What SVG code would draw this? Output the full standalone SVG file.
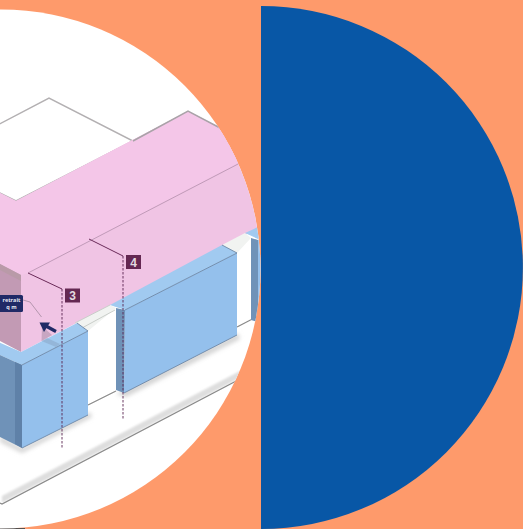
<svg xmlns="http://www.w3.org/2000/svg" width="523" height="529" viewBox="0 0 523 529">
<style>
.roofl{fill:none;stroke:#a9a3a8;stroke-width:1.5}
.roofw{fill:#fff;stroke:#b3b0b2;stroke-width:1.5}
.front{fill:#94c0ec}
.side{fill:#6f92b8}
.sided{fill:#5f81a8}
.ledge{fill:#a1caf0}
.edge{fill:none;stroke:#6d87a6;stroke-width:.9}
.ground{fill:none;stroke:#8a8a8a;stroke-width:1.3}
.lead{fill:none;stroke:#6a2a58;stroke-width:1}
.dash{fill:none;stroke:#5a2450;stroke-width:.9;stroke-dasharray:2.5 1.5}
.tag{fill:#642852}
.num{font-family:"Liberation Sans",Arial,sans-serif;font-weight:700;font-size:12px;fill:#e2dae0;text-anchor:middle}
.ret{font-family:"Open Sans","Liberation Sans",sans-serif;font-weight:700;font-size:5.500px;fill:#e6e8f2;text-anchor:middle}
</style>
<defs>
<clipPath id="c"><circle cx="1" cy="269" r="259.5"/></clipPath>
<filter id="b" x="-20%" y="-20%" width="140%" height="140%"><feGaussianBlur stdDeviation="2"/></filter>
<filter id="s" x="-5%" y="-20%" width="110%" height="140%"><feGaussianBlur stdDeviation="1"/></filter>
</defs>
<rect width="523" height="529" fill="#fe9a6b"/>
<rect x="0" y="528" width="25" height="1" fill="#55504e"/>
<circle cx="1" cy="269" r="259.5" fill="#fff"/>
<g clip-path="url(#c)">
<g id="ground">
<path d="M2 496L240 371L240 378L2 503Z" fill="#dedede" filter="url(#s)"/>
<path d="M0 503L2 504L240 379" class="ground"/>
<path d="M88 405L116 391M237 327L262 314" class="ground"/>
<path d="M0 442L22 453L92 417L90 412L22 448L0 436Z M116 394L126 397L240 339L238 333Z" fill="#d4d4d4" filter="url(#b)"/>
</g>
<g id="roof">
<path d="M-10 129L49 98L133 141L16 201L-10 188Z" class="roofw"/>
<path d="M-2 192L16 201L188 111L270 153L270 222L21 352L21 275L-2 263Z" fill="#f0c4e4"/>
<path d="M-2 192L16 201L188 111L270 153L238 163L28 273L21 275L-2 263Z" fill="#f4c6e8"/>
<path d="M133 141L188 111L222 129" class="roofl"/>
<path d="M28 273L240 163" fill="none" stroke="#c09ab8" stroke-width="1"/>
<path d="M-2 263L21 275L21 352L-2 340Z" fill="#c29ab4"/>
<path d="M-2 263L21 275L21 281L-2 269Z" fill="#b99aa8"/>
<path d="M42 326L41.500 341L52 335Z" fill="#c8a6c2"/>
</g>
<g id="blocks">
<path d="M75 323L110 305L116 308L88 331Z" fill="#f1f3f1"/>
<path d="M75 323L110 305M82 328L115 310" fill="none" stroke="#c9cdc9" stroke-width="1"/>
<path d="M222 245L245 233L251 238L237 253Z" fill="#f1f3f1"/>
<path d="M-2 342L21 352L77 323L88 331L22 365L-2 354Z" class="ledge"/>
<path d="M110 305L222 245L237 253L125 310Z" class="ledge"/>
<path d="M245 233L258 227L270 222L270 234L258 239Z" class="ledge"/>
<path d="M22 365L88 331L88 415L22 448Z" class="front"/>
<path d="M-2 354L22 365L22 448L-2 436Z" class="side"/>
<path d="M15 362L22 365L22 448L15 444Z" class="sided"/>
<path d="M125 310L237 253L237 335L124 393Z" class="front"/>
<path d="M116 308L125 310L124 393L116 390Z" class="side"/>
<path d="M251 238L258 240L258 322L251 320Z" class="side"/>
<path d="M258 240L270 234L270 320L258 322Z" class="front"/>
<path d="M22 365L88 331M125 310L237 253M22 448L88 415M124 393L237 335M222 245L237 253M77 323L88 331" class="edge"/>
<path d="M41.500 341L47 338L60 344L56 347Z" fill="#8aa6c6" opacity=".55"/>
</g>
<g id="connectors">
<path d="M28 273L62 289" class="lead"/>
<path d="M89 239L123 256" class="lead"/>
<path d="M62 289V448" class="dash"/>
<path d="M123 256V420" class="dash"/>
<path d="M23 300L30 302L41.500 317" fill="none" stroke="#a58aa0" stroke-width=".8"/>
<path d="M56 331.500L45 325.500" fill="none" stroke="#1f2a66" stroke-width="3.200"/>
<path d="M39.500 322.500L50 322.500L44 332Z" fill="#1f2a66"/>
</g>
<g id="tag3"><rect class="tag" x="65" y="288.500" width="15" height="14"/><text class="num" x="72.500" y="300">3</text></g>
<g id="tag4"><rect class="tag" x="126" y="255" width="15" height="14"/><text class="num" x="133.500" y="266.500">4</text></g>
<g id="retrait"><rect x="-4" y="295" width="27" height="17" rx="1.500" fill="#1f2a66"/><text class="ret" x="11.500" y="301.500">retrait</text><text class="ret" x="11.500" y="309">q m</text></g>
</g>
<path d="M261 6A262 261.500 0 0 1 261 529Z" fill="#0857a6"/>
</svg>
